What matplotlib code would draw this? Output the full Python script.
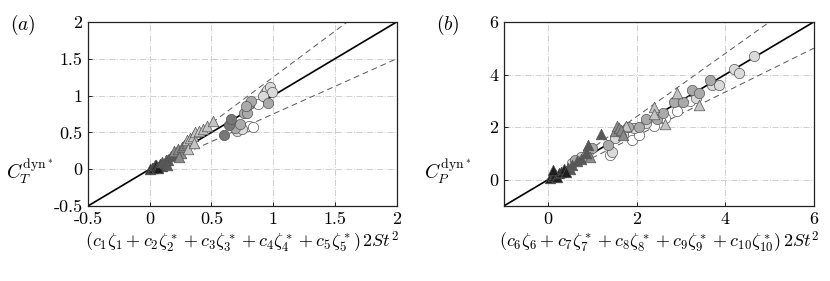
import matplotlib
matplotlib.use("Agg")
import matplotlib.pyplot as plt
import numpy as np

plt.rcParams["mathtext.fontset"] = "cm"
plt.rcParams["font.family"] = ["cmr10", "DejaVu Serif"]
plt.rcParams["axes.unicode_minus"] = False

# ----------------- DATA (panel a) -----------------
a_tri_dark_x = [0.00, 0.02, 0.03, 0.04, 0.05, 0.06, 0.08, 0.10, 0.07]
a_tri_dark_y = [0.00, 0.02, 0.01, 0.05, 0.06, 0.03, 0.07, 0.04, 0.02]
a_tri_mid_x = [0.10, 0.12, 0.13, 0.15, 0.17, 0.20, 0.22, 0.14]
a_tri_mid_y = [0.10, 0.08, 0.13, 0.12, 0.18, 0.20, 0.24, 0.05]
a_tri_gray_x = [0.20, 0.23, 0.25, 0.26, 0.28, 0.30, 0.24]
a_tri_gray_y = [0.25, 0.28, 0.22, 0.30, 0.33, 0.36, 0.17]
a_tri_light_x = [0.30, 0.33, 0.35, 0.37, 0.40, 0.43, 0.46, 0.51, 0.31, 0.36]
a_tri_light_y = [0.40, 0.42, 0.45, 0.50, 0.52, 0.55, 0.58, 0.65, 0.28, 0.35]
a_cir_dark_x = [0.60, 0.64, 0.66]
a_cir_dark_y = [0.46, 0.60, 0.68]
a_cir_mid_x = [0.69, 0.73, 0.76, 0.79, 0.80, 0.82, 0.96, 0.78]
a_cir_mid_y = [0.56, 0.61, 0.76, 0.76, 0.88, 0.92, 0.90, 0.86]
a_cir_light_x = [0.71, 0.75, 0.93, 0.95, 0.97, 0.99, 0.92]
a_cir_light_y = [0.52, 0.55, 1.04, 1.08, 1.12, 1.05, 1.00]
a_cir_white_x = [0.80, 0.84, 0.88]
a_cir_white_y = [0.58, 0.57, 0.88]

# ----------------- DATA (panel b) -----------------
b_tri_dark_x = [0.05, 0.10, 0.15, 0.20, 0.25, 0.30, 0.12, 0.35, 0.40]
b_tri_dark_y = [0.05, 0.15, 0.20, 0.10, 0.25, 0.30, 0.35, 0.40, 0.30]
b_tri_mid_x = [0.45, 0.55, 0.65, 0.75, 0.85, 0.90, 1.20, 0.50]
b_tri_mid_y = [0.45, 0.55, 0.70, 0.80, 1.00, 1.30, 1.75, 0.40]
b_tri_gray_x = [1.50, 1.55, 1.60, 1.65, 1.70, 0.95]
b_tri_gray_y = [1.85, 2.05, 1.95, 1.90, 1.70, 0.85]
b_tri_light_x = [1.75, 2.40, 2.40, 2.90, 2.65, 3.40]
b_tri_light_y = [2.05, 2.75, 2.50, 3.30, 2.10, 2.85]
b_cir_mid_x = [0.60, 0.85, 1.00, 1.35, 1.80, 2.05, 2.20, 2.45, 2.60, 2.85, 3.05, 3.25, 3.40, 3.65]
b_cir_mid_y = [0.75, 0.90, 1.20, 1.30, 2.00, 2.00, 2.30, 2.30, 2.55, 2.95, 2.95, 3.40, 3.30, 3.80]
b_cir_light_x = [0.55, 0.75, 0.90, 1.45, 1.50, 1.70, 1.95, 2.20, 2.45, 3.35, 3.70, 3.85, 4.20, 4.30, 4.65]
b_cir_light_y = [0.65, 0.85, 1.05, 1.05, 1.60, 1.75, 1.95, 2.15, 2.45, 3.10, 3.60, 3.60, 4.20, 4.05, 4.70]
b_cir_white_x = [1.40, 1.90, 2.05, 2.40, 2.65, 2.90, 3.20]
b_cir_white_y = [0.95, 1.50, 1.70, 2.05, 2.35, 2.60, 3.00]

FILL = {"tri_dark": "#1e1e1e", "tri_mid": "#585858", "tri_gray": "#8a8a8a",
        "tri_light": "#c4c4c4", "cir_dark": "#777777", "cir_mid": "#aaaaaa",
        "cir_light": "#dadada", "cir_white": "#ffffff"}

MS_CIR = 55
MS_TRI = 58


def style_axes(ax, lim, ticks, ticklabels):
    ax.set_xlim(lim)
    ax.set_ylim(lim)
    ax.set_xticks(ticks)
    ax.set_yticks(ticks)
    ax.set_xticklabels(ticklabels)
    ax.set_yticklabels(ticklabels)
    ax.tick_params(direction="in", length=3, width=0.6, labelsize=13,
                   top=False, right=False, pad=4)
    ax.grid(True, color="#d0d0d0", linestyle="-.", linewidth=0.7)
    ax.set_axisbelow(True)
    for s in ax.spines.values():
        s.set_linewidth(0.9)
        s.set_color("#222222")


def ref_lines(ax, lim, lo, hi):
    xx = np.array(lim)
    ax.plot(xx, xx, color="black", lw=1.2, zorder=2)
    x0 = np.array([0, lim[1]])
    ax.plot(x0, hi * x0, color="#555555", lw=0.7, ls=(0, (6, 4)), zorder=2)
    ax.plot(x0, lo * x0, color="#555555", lw=0.7, ls=(0, (6, 4)), zorder=2)


def scatter_group(ax, x, y, marker, key):
    size = MS_TRI if marker == "^" else MS_CIR
    ax.scatter(x, y, marker=marker, s=size, c=FILL[key], edgecolors="#555555",
               linewidths=0.5, zorder=3)


fig = plt.figure(figsize=(8.3, 2.81), dpi=100)

# ---- (a) ----
ax1 = fig.add_axes([0.106, 0.267, 0.372, 0.655])
lim_a = (-0.5, 2)
ticks_a = [-0.5, 0, 0.5, 1, 1.5, 2]
style_axes(ax1, lim_a, ticks_a, ["-0.5", "0", "0.5", "1", "1.5", "2"])
ref_lines(ax1, lim_a, 0.75, 1.25)
scatter_group(ax1, a_tri_dark_x, a_tri_dark_y, "^", "tri_dark")
scatter_group(ax1, a_tri_mid_x, a_tri_mid_y, "^", "tri_mid")
scatter_group(ax1, a_tri_gray_x, a_tri_gray_y, "^", "tri_gray")
scatter_group(ax1, a_tri_light_x, a_tri_light_y, "^", "tri_light")
scatter_group(ax1, a_cir_white_x, a_cir_white_y, "o", "cir_white")
scatter_group(ax1, a_cir_light_x, a_cir_light_y, "o", "cir_light")
scatter_group(ax1, a_cir_mid_x, a_cir_mid_y, "o", "cir_mid")
scatter_group(ax1, a_cir_dark_x, a_cir_dark_y, "o", "cir_dark")
ax1.set_xlabel(r"$(c_1\zeta_1+c_2\zeta_2^*+c_3\zeta_3^*+c_4\zeta_4^*+c_5\zeta_5^*)\,2St^2$",
               fontsize=13, labelpad=2)
fig.text(0.036, 0.39, r"$C_T^{\mathrm{dyn}^*}$", fontsize=14, ha="center", va="center")
fig.text(0.027, 0.91, r"$(a)$", fontsize=14, ha="center", va="center")

# ---- (b) ----
ax2 = fig.add_axes([0.607, 0.267, 0.3735, 0.655])
lim_b = (-1, 6)
ticks_b = [0, 2, 4, 6]
style_axes(ax2, lim_b, ticks_b, ["0", "2", "4", "6"])
ref_lines(ax2, lim_b, 1 / 1.2, 1.2)
scatter_group(ax2, b_cir_white_x, b_cir_white_y, "o", "cir_white")
scatter_group(ax2, b_cir_light_x, b_cir_light_y, "o", "cir_light")
scatter_group(ax2, b_cir_mid_x, b_cir_mid_y, "o", "cir_mid")
scatter_group(ax2, b_tri_light_x, b_tri_light_y, "^", "tri_light")
scatter_group(ax2, b_tri_gray_x, b_tri_gray_y, "^", "tri_gray")
scatter_group(ax2, b_tri_mid_x, b_tri_mid_y, "^", "tri_mid")
scatter_group(ax2, b_tri_dark_x, b_tri_dark_y, "^", "tri_dark")
ax2.set_xlabel(r"$(c_6\zeta_6+c_7\zeta_7^*+c_8\zeta_8^*+c_9\zeta_9^*+c_{10}\zeta_{10}^*)\,2St^2$",
               fontsize=13, labelpad=2)
fig.text(0.539, 0.39, r"$C_P^{\mathrm{dyn}^*}$", fontsize=14, ha="center", va="center")
fig.text(0.540, 0.91, r"$(b)$", fontsize=14, ha="center", va="center")

fig.savefig("out.png", dpi=100)
